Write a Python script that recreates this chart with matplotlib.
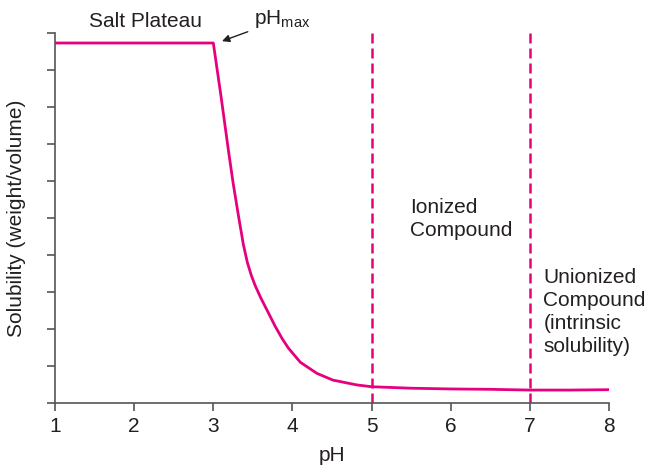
import matplotlib
matplotlib.use('Agg')
import matplotlib.pyplot as plt

# pH values and solubility (arbitrary units)
ph = [1.0, 3.0, 3.10, 3.19, 3.25, 3.32, 3.38, 3.43, 3.48, 3.53, 3.60, 3.70, 3.78, 3.87, 3.95,
      4.10, 4.31, 4.51, 4.81, 5.0, 5.5, 6.0, 6.5, 7.0, 7.5, 8.0]
solubility = [9.73, 9.73, 8.25, 6.84, 5.95, 5.03, 4.28, 3.80, 3.45, 3.17, 2.84, 2.42, 2.08, 1.74, 1.48,
              1.10, 0.80, 0.62, 0.49, 0.44, 0.40, 0.38, 0.37, 0.35, 0.35, 0.36]
boundaries = [5, 7]
x_ticks = [1, 2, 3, 4, 5, 6, 7, 8]
y_ticks = list(range(0, 11))

magenta = '#E6007E'
text_color = '#231F20'
axis_color = '#555555'
fs = 15

plt.rcParams['font.family'] = ['Liberation Sans', 'DejaVu Sans']

fig = plt.figure(figsize=(6.48, 4.65), dpi=100)
ax = fig.add_axes([0.0849, 0.1333, 0.855, 0.7957])

ax.plot(ph, solubility, color=magenta, linewidth=2.0, solid_joinstyle='round')
for b in boundaries:
    ax.axvline(b, color=magenta, linewidth=1.8, linestyle=(0, (4, 2)))

ax.set_xlim(1, 8)
ax.set_ylim(0, 10)
ax.set_xticks(x_ticks)
ax.set_yticks(y_ticks)
ax.set_yticklabels([])

for side in ['top', 'right']:
    ax.spines[side].set_visible(False)
for side in ['left', 'bottom']:
    ax.spines[side].set_color(axis_color)
    ax.spines[side].set_linewidth(1.2)
ax.tick_params(axis='both', direction='out', length=6, width=1.2, color=axis_color,
               labelsize=fs, labelcolor=text_color, pad=4)

ax.set_xlabel('pH', fontsize=fs, color=text_color)
ax.xaxis.set_label_coords(0.5, -0.115)
ax.set_ylabel('Solubility (weight/volume)', fontsize=fs, color=text_color)
ax.yaxis.set_label_coords(-0.052, 0.5)

ax.text(2.14, 10.3, 'Salt Plateau', fontsize=fs, color=text_color, ha='center', va='center',
        clip_on=False)
ax.annotate(r'pH$_{\mathregular{max}}$', xy=(3.11, 9.78), xytext=(3.52, 10.38),
            fontsize=fs, color=text_color, ha='left', va='center', annotation_clip=False,
            arrowprops=dict(arrowstyle='-|>', color=text_color, lw=1.0,
                            shrinkA=3, shrinkB=0, mutation_scale=11))
ax.text(5.49, 4.97, 'Ionized\nCompound', fontsize=fs, color=text_color, ha='left', va='center',
        linespacing=1.25)
ax.text(7.17, 2.46, 'Unionized\nCompound\n(intrinsic\nsolubility)', fontsize=fs,
        color=text_color, ha='left', va='center', linespacing=1.25)

fig.savefig('out.png', dpi=100)
